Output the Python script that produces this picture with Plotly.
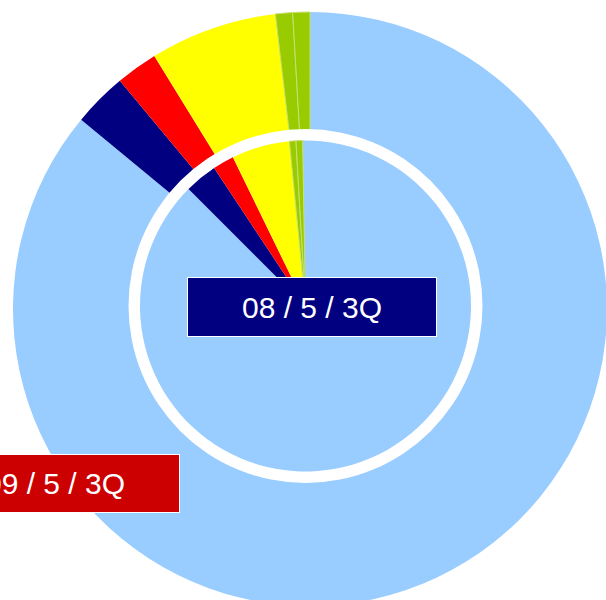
import plotly.graph_objects as go

# Outer ring (clockwise from 12 o'clock), percent shares
outer_labels = ["A", "B", "C", "D", "E", "F"]
outer_values = [86.0, 2.94, 2.28, 6.92, 0.93, 0.93]
# Inner pie (clockwise), percent shares
inner_labels = ["A", "B", "C", "D", "E", "F"]
inner_values = [87.78, 3.19, 2.08, 5.67, 0.64, 0.64]
slice_colors = ["#99CCFF", "#000080", "#FF0000", "#FFFF00", "#99CC00", "#99CC00"]
line_widths = [0, 0, 0, 0, 1, 1]

label_inner = "08 / 5 / 3Q"
label_outer = "09 / 5 / 3Q"

W, H = 620, 620

def dom(cx, cy, r):
    return dict(x=[(cx - r) / W, (cx + r) / W], y=[1 - (cy + r) / H, 1 - (cy - r) / H])

fig = go.Figure()
fig.add_trace(go.Pie(
    labels=outer_labels, values=outer_values, sort=False, direction="clockwise",
    rotation=0, hole=0.57, textinfo="none", hoverinfo="skip", showlegend=False,
    marker=dict(colors=slice_colors, line=dict(color="#C8E070", width=line_widths)),
    domain=dom(310, 309, 297),
))
# white separating ring around the inner pie
fig.add_trace(go.Pie(
    labels=["ring"], values=[1], sort=False, hole=0.92, textinfo="none",
    hoverinfo="skip", showlegend=False,
    marker=dict(colors=["white"], line=dict(width=0)),
    domain=dom(305.5, 306, 177),
))
fig.add_trace(go.Pie(
    labels=inner_labels, values=inner_values, sort=False, direction="clockwise",
    rotation=-1, textinfo="none", hoverinfo="skip", showlegend=False,
    marker=dict(colors=slice_colors, line=dict(color="#C8E070", width=line_widths)),
    domain=dom(305.5, 306, 165.5),
))

font = dict(family="Liberation Sans, Arial, sans-serif", size=30, color="white")
fig.add_annotation(text=label_inner, x=312 / W, y=1 - 307 / H, xref="paper", yref="paper",
                   xanchor="center", yanchor="middle", showarrow=False, font=font,
                   bgcolor="#000080", bordercolor="white", borderwidth=1, borderpad=0,
                   width=248, height=58)
fig.add_annotation(text=label_outer, x=55 / W, y=1 - 483.5 / H, xref="paper", yref="paper",
                   xanchor="center", yanchor="middle", showarrow=False, font=font,
                   bgcolor="#CC0000", bordercolor="white", borderwidth=1, borderpad=0,
                   width=248, height=57)

fig.update_layout(width=W, height=H, autosize=False, margin=dict(l=0, r=0, t=0, b=0),
                  paper_bgcolor="white", plot_bgcolor="white")

fig.write_html("out.html", config={"displayModeBar": False},
               post_script="document.body.style.margin='0';document.body.style.overflow='hidden';document.documentElement.style.overflow='hidden';")
